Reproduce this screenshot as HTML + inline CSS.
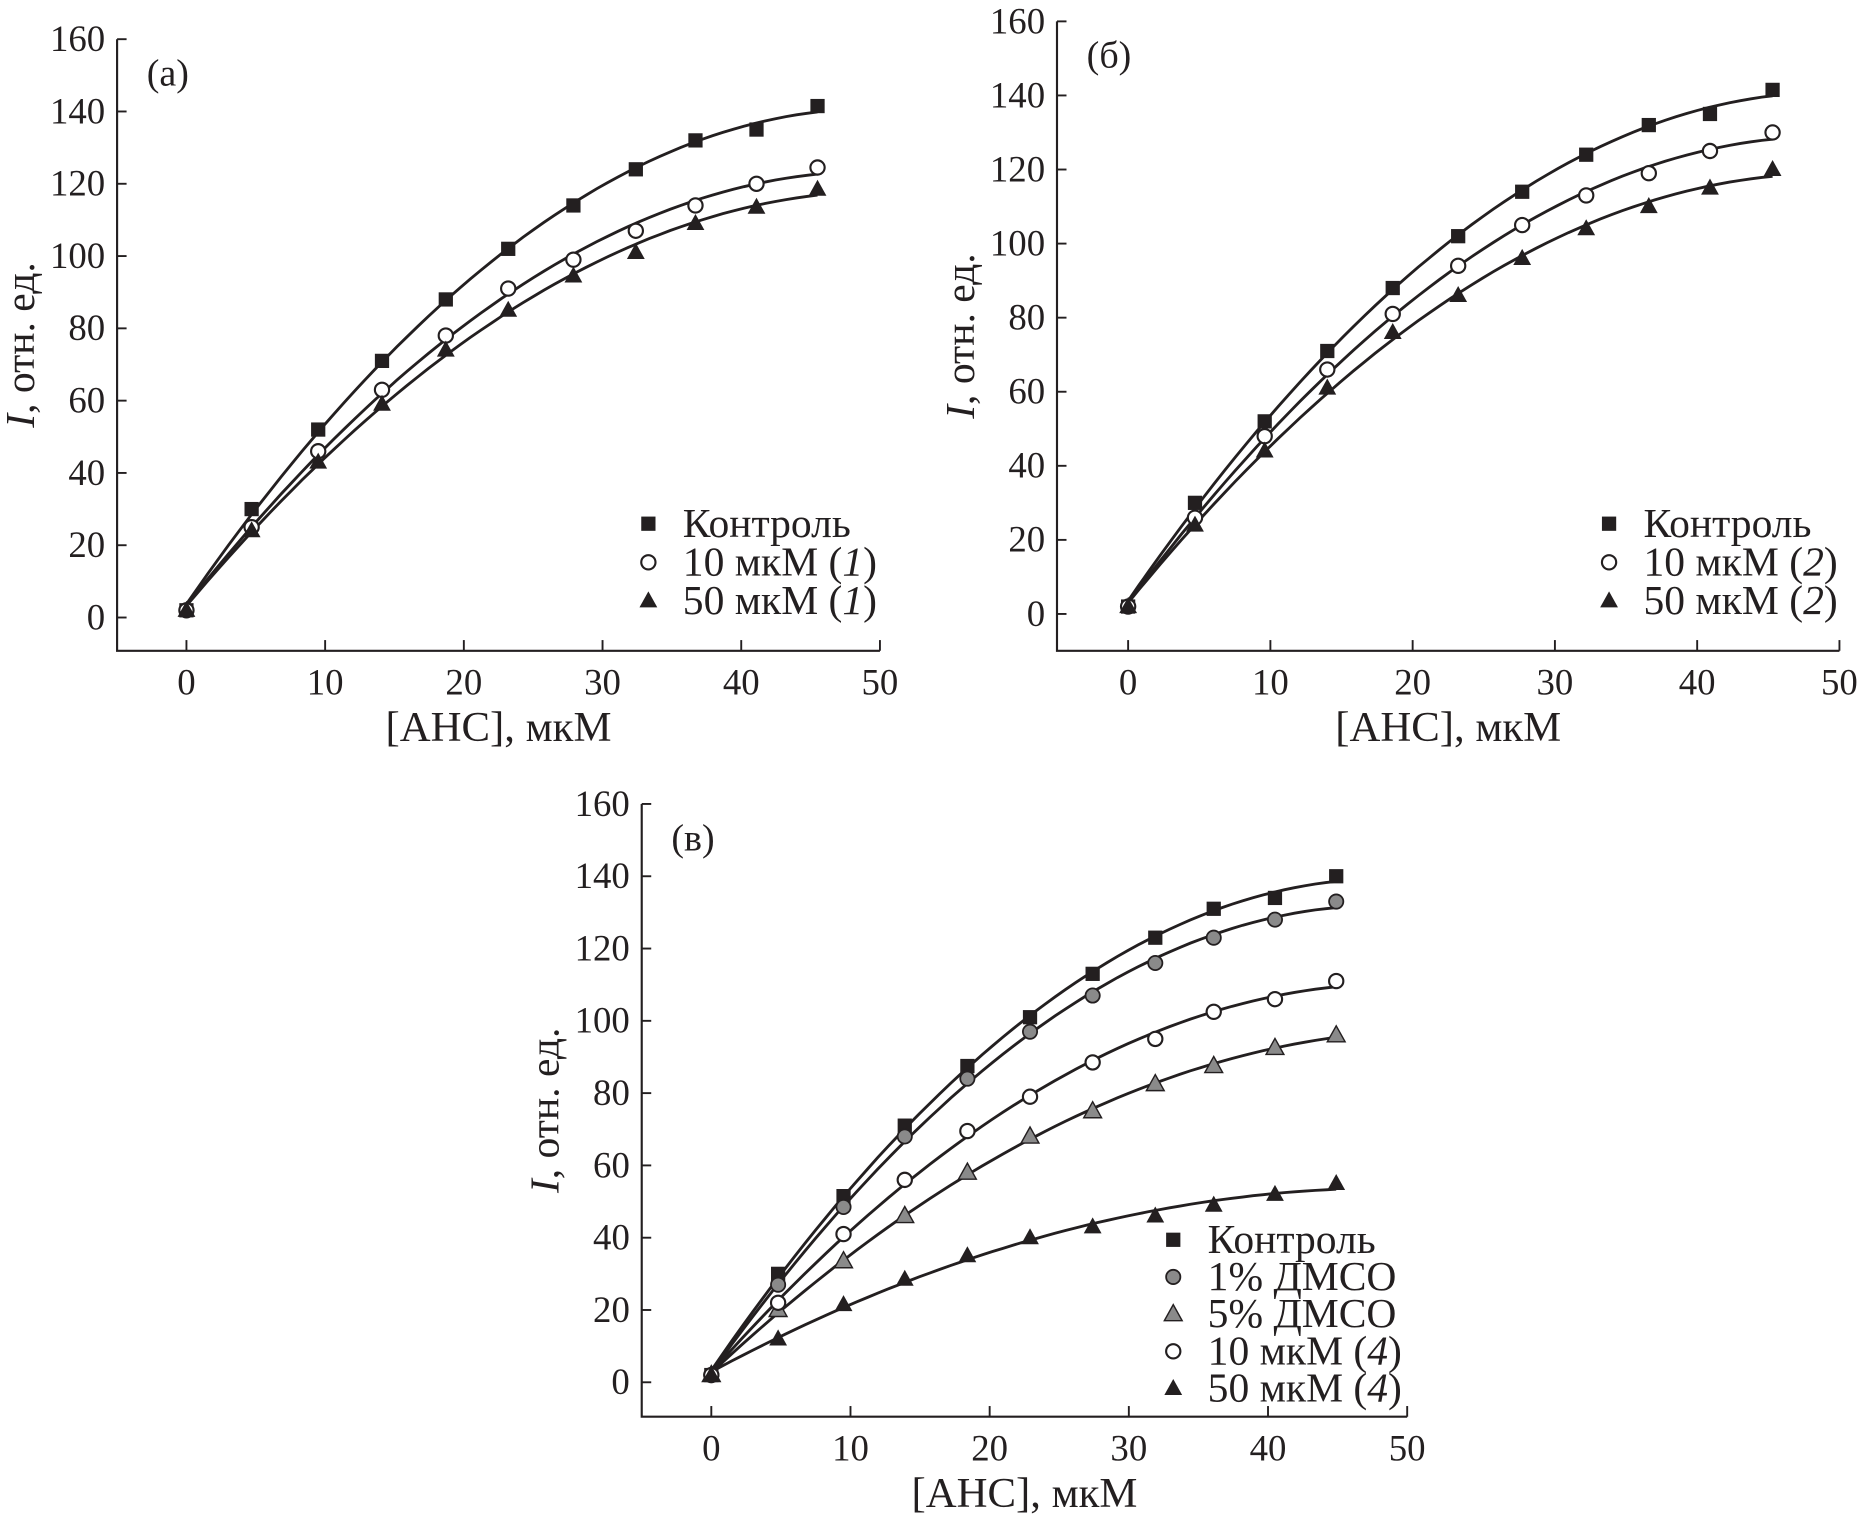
<!DOCTYPE html>
<html><head><meta charset="utf-8"><style>
html,body{margin:0;padding:0;background:#fff;}
svg{display:block;}
text{font-family:"Liberation Serif",serif;fill:#231f20;}
</style></head><body>
<svg id="chart" width="1862" height="1516" viewBox="0 0 1568 1276.6" preserveAspectRatio="none" xmlns="http://www.w3.org/2000/svg"></svg>
<script>
const xTicks=[0,10,20,30,40,50];
const yTicks=[0,20,40,60,80,100,120,140,160];
const xA=[0,4.7,9.5,14.1,18.7,23.2,27.9,32.4,36.7,41.1,45.5];
const xB=[0,4.7,9.6,14.0,18.6,23.2,27.7,32.2,36.6,40.9,45.3];
const xC=[0,4.8,9.5,13.9,18.4,22.9,27.4,31.9,36.1,40.5,44.9];
const aControl=[2,30,52,71,88,102,114,124,132,135,141.5];
const a10=[2,25,46,63,78,91,99,107,114,120,124.5];
const a50=[2,24,43,59,74,85,94.5,101,109,113.5,118.5];
const bControl=[2,30,52,71,88,102,114,124,132,135,141.5];
const b10=[2,26,48,66,81,94,105,113,119,125,130];
const b50=[2,24,44,61,76,86,96,104,110,115,120];
const cControl=[2,30,51.5,71,87.5,101,113,123,131,134,140];
const c1=[2,27,48.5,68,84,97,107,116,123,128,133];
const c5=[2,20,33.5,46,58,68,75,82.5,87.5,92.5,96];
const c10=[2,22,41,56,69.5,79,88.5,95,102.5,106,111];
const c50=[2,12,21.5,28.5,35,40,43,46,49,52,55];

const NS="http://www.w3.org/2000/svg";
const svg=document.getElementById('chart');
function mk(tag,attrs,parent){const e=document.createElementNS(NS,tag);for(const k in attrs)e.setAttribute(k,attrs[k]);(parent||svg).appendChild(e);return e;}
function txt(s,x,y,size,anchor,parent){const t=mk('text',{x:x,y:y,'font-size':size,'text-anchor':anchor||'start'},parent);t.innerHTML=s;return t;}

function marker(g,type,x,y){
  let e;
  if(type==='sq'){e=mk('rect',{x:x-6,y:y-6,width:12,height:12,fill:'#231f20'},g);}
  else if(type==='oc'){e=mk('circle',{cx:x,cy:y,r:6,fill:'#fff',stroke:'#231f20','stroke-width':1.8},g);}
  else if(type==='gc'){e=mk('circle',{cx:x,cy:y,r:6,fill:'#8a8a8a',stroke:'#231f20','stroke-width':1.5},g);}
  else if(type==='tr'){e=mk('polygon',{points:`${x},${y-8} ${x-7.5},${y+5.5} ${x+7.5},${y+5.5}`,fill:'#231f20'},g);}
  else if(type==='gt'){e=mk('polygon',{points:`${x},${y-8} ${x-7.5},${y+5.5} ${x+7.5},${y+5.5}`,fill:'#8a8a8a',stroke:'#231f20','stroke-width':1.2},g);}
  
  
}

function fit(xs,ys){
  let S=[0,0,0,0,0],T=[0,0,0];
  xs.forEach((x,i)=>{for(let k=0;k<5;k++)S[k]+=Math.pow(x,k);for(let k=0;k<3;k++)T[k]+=ys[i]*Math.pow(x,k);});
  const M=[[S[0],S[1],S[2],T[0]],[S[1],S[2],S[3],T[1]],[S[2],S[3],S[4],T[2]]];
  for(let i=0;i<3;i++){for(let j=i+1;j<3;j++){const f=M[j][i]/M[i][i];for(let k=i;k<4;k++)M[j][k]-=f*M[i][k];}}
  const c=[0,0,0];
  for(let i=2;i>=0;i--){let s=M[i][3];for(let k=i+1;k<3;k++)s-=M[i][k]*c[k];c[i]=s/M[i][i];}
  return x=>c[0]+c[1]*x+c[2]*x*x;
}

function panel(cfg){
  const g=mk('g',{});
  
  
  const X=v=>cfg.x0+v*(cfg.x50-cfg.x0)/50;
  const Y=v=>cfg.y0+v*(cfg.y160-cfg.y0)/160;
  const left=X(-5),bottom=cfg.bottom,right=X(50),top=Y(160);
  const ax=mk('path',{d:`M${left},${top} L${left},${bottom} L${right},${bottom}`,fill:'none',stroke:'#231f20','stroke-width':1.8},g);
  
  
  yTicks.forEach(v=>{
    mk('line',{x1:left,x2:left+8,y1:Y(v),y2:Y(v),stroke:'#231f20','stroke-width':1.6},g);
    const t=txt(String(v),left-10,Y(v)+10,31,'end',g);
    
    
  });
  xTicks.forEach(v=>{
    mk('line',{x1:X(v),x2:X(v),y1:bottom,y2:bottom-9,stroke:'#231f20','stroke-width':1.6},g);
    const t=txt(String(v),X(v),bottom+37,31,'middle',g);
    
    
  });
  const xt=txt('[АНС], мкМ',(left+right)/2,bottom+76,36,'middle',g);
  
  
  const yt=mk('text',{x:0,y:0,'font-size':35,'text-anchor':'middle',transform:`translate(${left-70},${(top+bottom)/2}) rotate(-90)`},g);
  yt.innerHTML='<tspan font-style="italic">I</tspan>, отн. ед.';
  
  
  const pl=txt(cfg.label,left+25,top+39,32,'start',g);
  
  
  cfg.series.forEach(s=>{
    const f=fit(cfg.xs,s.y);
    const xmax=cfg.xs[cfg.xs.length-1];
    let d='';
    for(let i=0;i<=60;i++){const x=xmax*i/60;d+=(i?'L':'M')+X(x).toFixed(1)+','+Y(f(x)).toFixed(1);}
    const p=mk('path',{d:d,fill:'none',stroke:'#231f20','stroke-width':2.4},g);
    
    
  });
  cfg.series.forEach(s=>{
    s.y.forEach((v,i)=>marker(g,s.m,X(cfg.xs[i]),Y(v)));
  });
  cfg.series.forEach((s,i)=>{
    const ly=cfg.legY+i*cfg.legDy;
    marker(g,s.m,cfg.legX,ly);
    const t=txt(s.label,cfg.legX+29,ly+11,35,'start',g);
    
    
  });
}

panel({name:'panel-a',label:'(а)',x0:157,x50:741,y0:520,y160:33,bottom:548,xs:xA,legX:546,legY:441,legDy:32.5,
  series:[{y:aControl,m:'sq',label:'Контроль'},{y:a10,m:'oc',label:'10 мкМ (<tspan font-style="italic">1</tspan>)'},{y:a50,m:'tr',label:'50 мкМ (<tspan font-style="italic">1</tspan>)'}]});
panel({name:'panel-b',label:'(б)',x0:950,x50:1549,y0:517,y160:18,bottom:548,xs:xB,legX:1355,legY:441,legDy:32.5,
  series:[{y:bControl,m:'sq',label:'Контроль'},{y:b10,m:'oc',label:'10 мкМ (<tspan font-style="italic">2</tspan>)'},{y:b50,m:'tr',label:'50 мкМ (<tspan font-style="italic">2</tspan>)'}]});
panel({name:'panel-c',label:'(в)',x0:599,x50:1185,y0:1164,y160:677,bottom:1193,xs:xC,legX:988,legY:1044,legDy:31.3,
  series:[{y:cControl,m:'sq',label:'Контроль'},{y:c1,m:'gc',label:'1% ДМСО'},{y:c5,m:'gt',label:'5% ДМСО'},{y:c10,m:'oc',label:'10 мкМ (<tspan font-style="italic">4</tspan>)'},{y:c50,m:'tr',label:'50 мкМ (<tspan font-style="italic">4</tspan>)'}]});
</script>
</body></html>
